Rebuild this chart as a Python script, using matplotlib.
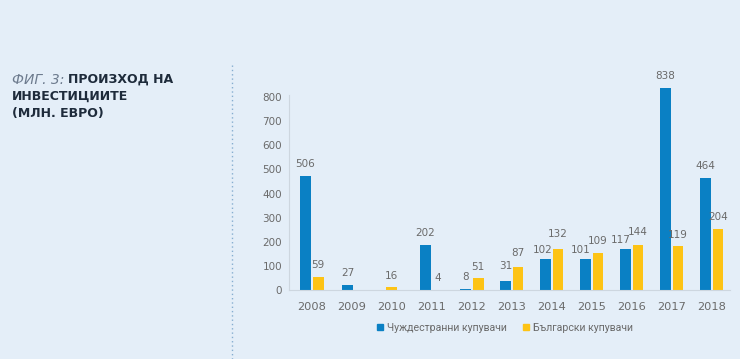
import numpy as np
import matplotlib.pyplot as plt
from matplotlib.lines import Line2D

years = ["2008", "2009", "2010", "2011", "2012", "2013", "2014", "2015", "2016", "2017", "2018"]

# bar heights as drawn in the source chart
foreign = [474, 22, 0, 188, 3, 37, 130, 130, 170, 839, 465]
bulgarian = [55, 0, 11, 2, 48, 95, 170, 155, 185, 181, 252]

# printed value labels (empty where no bar)
foreign_labels = ["506", "27", "", "202", "8", "31", "102", "101", "117", "838", "464"]
bulgarian_labels = ["59", "", "16", "4", "51", "87", "132", "109", "144", "119", "204"]

BLUE = "#0a80c4"
YELLOW = "#fdc315"
BG = "#e4eef8"
TXT = "#6a6a6a"

W, H = 740, 359
fig = plt.figure(figsize=(7.4, 3.59), dpi=100, facecolor=BG)

def px(x, y):
    return x / W, 1 - y / H

# axes placed by pixel box
left, right, top, bottom = 289, 730, 82.7, 290
ax = fig.add_axes([left / W, 1 - bottom / H, (right - left) / W, (bottom - top) / H])
ax.set_facecolor(BG)

# label nudges (points) for the crowded groups, as in the original
nudge_f = {"2013": (0, 2), "2014": (-2, -2), "2015": (-3, -2), "2016": (-3, -2)}
nudge_b = {"2013": (0, 2), "2014": (0, 2), "2015": (0, 0), "2016": (0, 1)}

x = np.arange(len(years))
bw = 0.27
off = 0.16
for i, yr in enumerate(years):
    fb, bb = foreign[i], bulgarian[i]
    if fb and bb:
        xf, xb = x[i] - off, x[i] + off
    else:
        xf = xb = x[i] - 0.1 if fb else x[i]
    if fb:
        ax.bar(xf, fb, width=bw, color=BLUE)
        dx, dy = nudge_f.get(yr, (0, 0))
        ax.annotate(foreign_labels[i], (xf, fb), xytext=(dx, 8.5 + dy), textcoords="offset points",
                    ha="center", va="center", fontsize=7.5, color=TXT)
    if bb:
        ax.bar(xb, bb, width=bw, color=YELLOW)
        dx, dy = nudge_b.get(yr, (0, 0))
        ax.annotate(bulgarian_labels[i], (xb, bb), xytext=(dx, 8.5 + dy), textcoords="offset points",
                    ha="center", va="center", fontsize=7.5, color=TXT)

ax.set_xlim(-0.57, 10.46)
ax.set_ylim(0, 860)
ax.set_yticks(range(0, 801, 100))
ax.set_xticks(x)
ax.set_xticklabels(years)
ax.tick_params(axis="y", length=0, pad=5, labelsize=7.5, labelcolor=TXT)
ax.tick_params(axis="x", length=0, pad=9, labelsize=8.2, labelcolor=TXT)
for s in ["top", "right"]:
    ax.spines[s].set_visible(False)
ax.spines["left"].set_color("#cdd6df")
ax.spines["bottom"].set_color("#cdd6df")
ax.spines["left"].set_bounds(0, 810)

# legend
handles = [Line2D([], [], marker="s", linestyle="", color=BLUE, markersize=4.5),
           Line2D([], [], marker="s", linestyle="", color=YELLOW, markersize=4.5)]
fig.legend(handles, ["Чуждестранни купувачи", "Български купувачи"], loc="center",
           bbox_to_anchor=px(504, 328), ncol=2, frameon=False, fontsize=7.6,
           prop={"family": "Roboto", "size": 7.6},
           labelcolor=TXT, handletextpad=0.2, columnspacing=1.3, handlelength=1)

# dotted separator
fig.add_artist(Line2D([232 / W, 232 / W], [1 - 65 / H, 0], color="#86aed0",
                      linestyle=(0, (1, 2.1)), linewidth=1.0))

# title
t1 = fig.text(*px(12, 79.5), "ФИГ. 3:", fontsize=10, style="italic", color="#6d7b8e", va="center")
fig.canvas.draw()
bb1 = t1.get_window_extent()
fig.text((bb1.x1 + 4) / W, 1 - 79.5 / H, "ПРОИЗХОД НА", fontsize=9, weight="bold",
         color="#1e2b3b", va="center")
fig.text(*px(12, 96.5), "ИНВЕСТИЦИИТЕ", fontsize=9, weight="bold", color="#1e2b3b", va="center")
fig.text(*px(12, 113.5), "(МЛН. ЕВРО)", fontsize=9, weight="bold", color="#1e2b3b", va="center")

fig.savefig("out.png", dpi=100, facecolor=BG)
